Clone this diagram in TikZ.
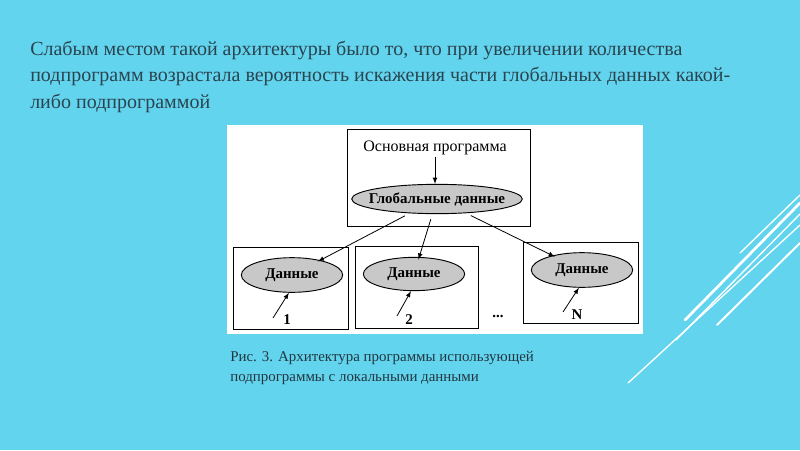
\documentclass[tikz,border=0pt]{standalone}
\usepackage{fontspec}
\setmainfont{Liberation Serif}
\usetikzlibrary{arrows}
\usetikzlibrary{shapes.geometric}
\definecolor{slidebg}{RGB}{99,212,238}
\definecolor{slidetext}{RGB}{42,68,80}
\definecolor{ovalgray}{RGB}{200,200,200}
\tikzset{
  oval/.style={ellipse, draw, line width=0.7pt, fill=ovalgray, inner sep=0pt,
    font=\bfseries\fontsize{11.2}{13}\selectfont},
  box/.style={draw, line width=0.7pt},
  arr/.style={-latex, line width=0.6pt},
  num/.style={font=\bfseries\fontsize{11.2}{13}\selectfont, inner sep=0pt},
  deco/.style={white, line width=1pt, line cap=round},
}

\begin{document}
\begin{tikzpicture}[x=0.75pt,y=-0.75pt]
%background
\fill[slidebg] (0,0) rectangle (800,450);
\useasboundingbox (0,0) rectangle (800,450);
\draw[deco] (740,253)--(800,195);
\draw[deco, line width=2pt] (685,320)--(800,203);
\draw[deco] (676,340)--(800,214);
\draw[deco] (628,383)--(800,225);
\draw[deco, line width=1.5pt] (717,325)--(800,243);
%text
\node[anchor=north west, align=left, inner sep=0pt, text=slidetext,
  font=\fontsize{15}{19.8}\selectfont] (title) at (30,41)
  {Слабым местом такой архитектуры было то, что при увеличении количества\\
   подпрограмм возрастала вероятность искажения части глобальных данных какой-\\
   либо подпрограммой};
\node[anchor=north west, align=left, inner sep=0pt, text=slidetext!80!black,
  font=\fontsize{11.2}{15}\selectfont] (caption) at (230,351)
  {Рис. 3. Архитектура программы использующей\\
   подпрограммы с локальными данными};
%picture
\fill[white] (227,125) rectangle (643,334);
\draw[box] (347,129) rectangle (530,226);
\draw[box] (233,247) rectangle (348,329);
\draw[box] (355,246) rectangle (478,328);
\draw[box] (523,242) rectangle (638,323);
%vertex
\node[font=\fontsize{12}{14}\selectfont, inner sep=1pt] (mainprog) at (435,148) {Основная программа};
\node[oval, inner xsep=-6pt, minimum width=128pt, minimum height=22pt] (glob) at (437,199) {Глобальные данные};
\node[oval, minimum width=76pt, minimum height=26pt] (d1) at (292,275) {Данные};
\node[oval, minimum width=76pt, minimum height=25pt] (d2) at (414,274) {Данные};
\node[oval, minimum width=76pt, minimum height=26pt] (d3) at (582,270) {Данные};
\node[num] (n1) at (287,320) {1};
\node[num] (n2) at (409,320) {2};
\node[num] (nN) at (577,315) {N};
\node[num] (dots) at (498,316) {...};
\coordinate (t1) at (273,318); \coordinate (t2) at (397,316); \coordinate (tN) at (563,312);
%edge
\draw[arr] (mainprog.south) -- (mainprog.south |- glob.north);
\draw[arr, shorten <=4pt, shorten >=-2pt] (glob) -- (d1);
\draw[arr, shorten <=4pt, shorten >=-2pt] (glob) -- (d2);
\draw[arr, shorten <=4pt, shorten >=-2pt] (glob) -- (d3);
\draw[arr] (t1) -- (d1.260);
\draw[arr] (t2) -- (d2.260);
\draw[arr] (tN) -- (d3.260);
\end{tikzpicture}
\end{document}
